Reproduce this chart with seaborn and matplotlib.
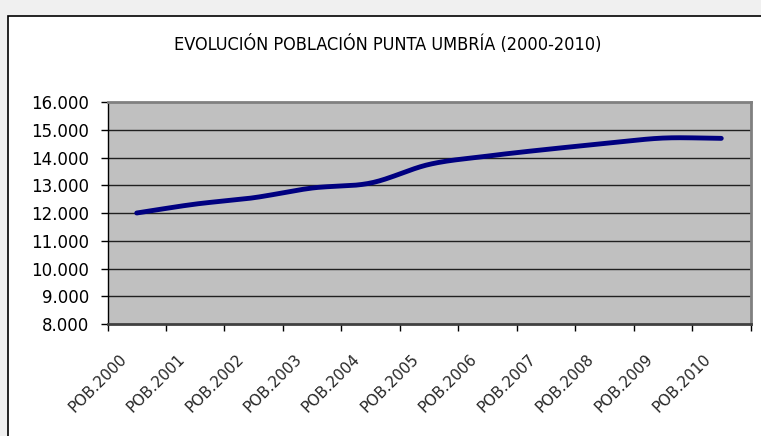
import numpy as np
import pandas as pd
import seaborn as sns
import matplotlib.pyplot as plt
from matplotlib.patches import Rectangle
from matplotlib.transforms import ScaledTranslation

# values
years = ["POB.2000", "POB.2001", "POB.2002", "POB.2003", "POB.2004", "POB.2005",
         "POB.2006", "POB.2007", "POB.2008", "POB.2009", "POB.2010"]
population = [12000, 12320, 12550, 12900, 13080, 13750, 14050, 14290, 14500, 14700, 14690]
y_ticks = [8000, 9000, 10000, 11000, 12000, 13000, 14000, 15000, 16000]
y_labels = ["8.000", "9.000", "10.000", "11.000", "12.000", "13.000", "14.000", "15.000", "16.000"]
title = "EVOLUCIÓN POBLACIÓN PUNTA UMBRÍA (2000-2010)"

sns.set_style("white")

df = pd.DataFrame({"year": years, "pop": population})
df["pos"] = np.arange(len(df))


# smoothed line like the spreadsheet's "smooth line" option (Catmull-Rom through the points)
def smooth(x, y, steps=20):
    x = np.asarray(x, float)
    y = np.asarray(y, float)
    px = np.concatenate([[2 * x[0] - x[1]], x, [2 * x[-1] - x[-2]]])
    py = np.concatenate([[2 * y[0] - y[1]], y, [2 * y[-1] - y[-2]]])
    xs, ys = [], []
    t = np.linspace(0, 1, steps, endpoint=False)
    for i in range(1, len(px) - 2):
        for arr, out in ((px, xs), (py, ys)):
            p0, p1, p2, p3 = arr[i - 1], arr[i], arr[i + 1], arr[i + 2]
            out.extend(0.5 * (2 * p1 + (-p0 + p2) * t + (2 * p0 - 5 * p1 + 4 * p2 - p3) * t ** 2
                              + (-p0 + 3 * p1 - 3 * p2 + p3) * t ** 3))
    xs.append(x[-1])
    ys.append(y[-1])
    return pd.DataFrame({"pos": xs, "pop": ys})


curve = smooth(df["pos"], df["pop"])

fig = plt.figure(figsize=(7.61, 4.36), dpi=100)
fig.patch.set_facecolor("#f0f0f0")
fig.patches.append(Rectangle((8 / 761, -0.1), 1.2, 0.1 + 1 - 16 / 436, transform=fig.transFigure,
                             facecolor="white", edgecolor="black", linewidth=1.2, zorder=-10))

ax = fig.add_axes([107.5 / 761, 1 - 324 / 436, (750.5 - 107.5) / 761, (324 - 102) / 436])
ax.set_facecolor("#c0c0c0")

sns.lineplot(data=curve, x="pos", y="pop", ax=ax, color="#000080", linewidth=3.5,
             solid_capstyle="round", zorder=3)

ax.set_xlim(-0.5, len(years) - 0.5)
ax.set_ylim(8000, 16000)
ax.set_yticks(y_ticks)
ax.set_yticklabels(y_labels, fontsize=12, color="black")
ax.set_xticks(df["pos"])
ax.set_xticklabels(years, rotation=45, ha="right", va="top", rotation_mode="anchor", fontsize=11)
ax.set_xticks(np.arange(len(years) + 1) - 0.5, minor=True)
ax.tick_params(axis="x", which="major", length=0, pad=14)
ax.tick_params(axis="x", which="minor", length=5, width=1, color="black", direction="out", bottom=True)
ax.tick_params(axis="y", length=5, width=1, color="black", direction="out", left=True, pad=8)
ax.set_xlabel("")
ax.set_ylabel("")
shift = ScaledTranslation(-18 / 100, -8 / 100, fig.dpi_scale_trans)
for lab in ax.get_xticklabels():
    lab.set_transform(lab.get_transform() + shift)

for v in y_ticks[1:-1]:
    ax.axhline(v, color="#202020", linewidth=1.0, zorder=1)

for side in ("top", "right"):
    ax.spines[side].set_color("#808080")
    ax.spines[side].set_linewidth(2)
ax.spines["left"].set_color("black")
ax.spines["left"].set_linewidth(1)
ax.spines["bottom"].set_color("#404040")
ax.spines["bottom"].set_linewidth(2)

fig.text(388 / 761, 1 - 45 / 436, title, ha="center", va="center", fontsize=13,
         family="DejaVu Sans", stretch="condensed", color="black")

fig.savefig("out.png", dpi=100, facecolor=fig.get_facecolor())
